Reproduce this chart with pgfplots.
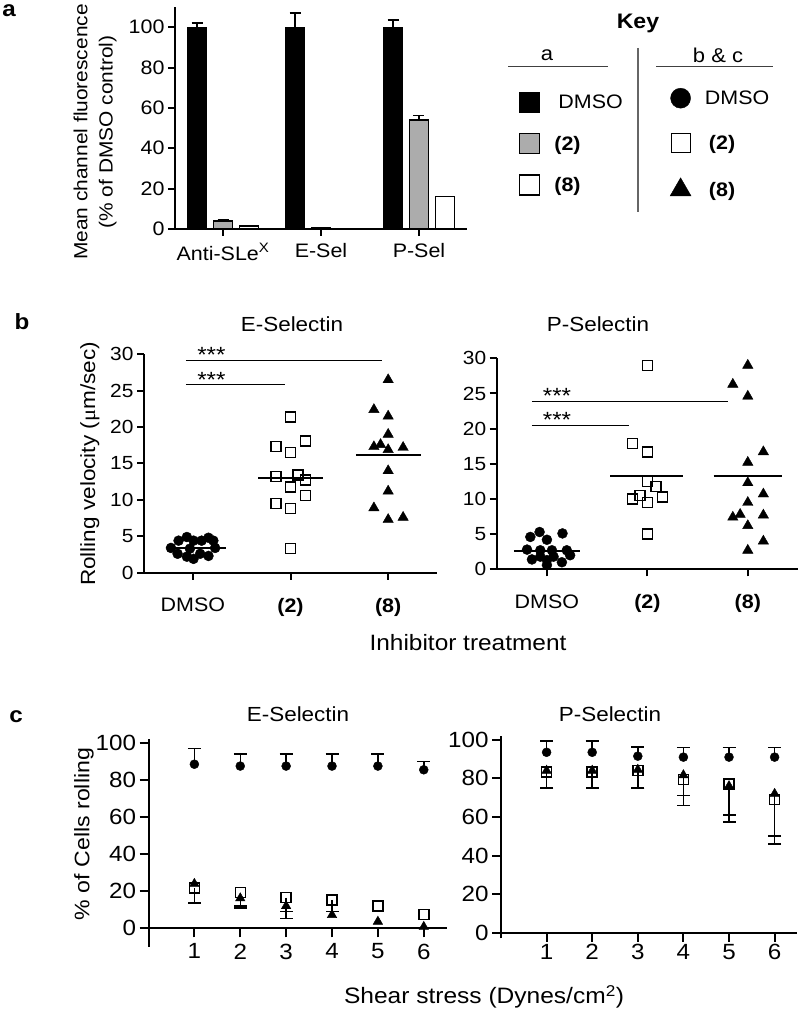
\documentclass[border=0pt]{standalone}
\usepackage{pgfplots}
\pgfplotsset{compat=1.18}
\usepackage{fontspec}
\setmainfont[FakeStretch=1.1]{Liberation Sans}
\newfontfamily\seriffont[FakeStretch=1.1]{Liberation Serif}
\newcommand\fs[1]{\fontsize{#1}{#1}\selectfont}
\pgfplotsset{
  myaxis/.style={
    scale only axis, clip=false, anchor=south west,
    axis lines*=left,
    axis line style={line width=2pt, -},
    tick style={line width=2pt, black},
    major tick length=7pt,
    tick align=outside,
    /pgf/number format/assume math mode=true,
  },
  errup/.style={error bars/.cd, y dir=plus, y explicit, error mark=|,
    error bar style={line width=1.5pt, black},
    error mark options={line width=1.5pt, mark size=#1, black}},
  errdown/.style={error bars/.cd, y dir=minus, y explicit, error mark=|,
    error bar style={line width=1.5pt, black},
    error mark options={line width=1.5pt, mark size=#1, black}},
}
\begin{document}
\begin{tikzpicture}
\useasboundingbox (0pt,0pt) rectangle (800pt,1011pt);

%%%%%%%%%%%%%%%%%% Panel a
\begin{axis}[myaxis, at={(175pt,782pt)}, width=292pt, height=222pt,
  xmin=-0.49, xmax=2.49, ymin=0, ymax=110,
  xtick={0,1,2}, xticklabels={Anti-SLe\textsuperscript{X},E-Sel,P-Sel},
  ytick={0,20,40,60,80,100},
  yticklabel style={font=\fs{19.5}},
  xticklabel style={font=\fs{19.5}, yshift=-4pt},
]
\addplot[ybar, bar width=19pt, bar shift=0pt, fill=black, draw=black, line width=1.2pt, errup=5.5pt]
  coordinates {(-0.265,100) +- (0,2) (0.735,100) +- (0,7) (1.735,100) +- (0,3.5)};
\addplot[ybar, bar width=19pt, bar shift=0pt, fill=gray!65, draw=black, line width=1.2pt, errup=5.5pt]
  coordinates {(0,4) +- (0,0.5) (2,54) +- (0,2.2)};
\addplot[ybar, bar width=19pt, bar shift=0pt, fill=gray!65, draw=black, line width=1.2pt]
  coordinates {(1,0.6)};
\addplot[ybar, bar width=19pt, bar shift=0pt, fill=white, draw=black, line width=1.2pt]
  coordinates {(0.265,1.5) (1.265,0.2) (2.265,16)};
\end{axis}

\node[font=\bfseries\fs{22}] at (9pt,1000pt) {a};
\node[rotate=90, align=center, font=\fontsize{19}{25.3}\selectfont] at (95pt,879pt)
  {Mean channel fluorescence\\(\% of DMSO control)};

%%%%%%%%%%%%%%%%%% Key
\node[font=\bfseries\fs{21}] at (638pt,988pt) {Key};
\node[font=\fs{20}] at (547pt,956pt) {a};
\node[font=\fs{20}] at (718pt,956pt) {b \& c};
\draw[line width=1pt, black!75] (508pt,944pt) -- (608pt,944pt);
\draw[line width=1pt, black!75] (656pt,944pt) -- (773pt,944pt);
\draw[line width=1.5pt, black!60] (638pt,963pt) -- (638pt,799pt);

\begin{axis}[hide axis, scale only axis, width=10pt, height=10pt,
  at={(519pt,919pt)}, anchor=north west,
  xmin=0, xmax=1, ymin=0, ymax=1,
  legend style={at={(0,1)}, anchor=north west, draw=none, fill=none,
    inner sep=0pt, font=\fs{19.5}, row sep=20pt, legend cell align=left},
  legend image code/.code={\draw[#1] (0pt,-10pt) rectangle (20pt,10pt);},
]
\addlegendimage{fill=black, draw=black, line width=1pt}
\addlegendentry{\hspace{16pt}DMSO}
\addlegendimage{fill=gray!65, draw=black, line width=1.2pt}
\addlegendentry{\hspace{12pt}\textbf{(2)}}
\addlegendimage{fill=white, draw=black, line width=1.2pt}
\addlegendentry{\hspace{12pt}\textbf{(8)}}
\end{axis}

\begin{axis}[hide axis, scale only axis, width=10pt, height=10pt,
  at={(670pt,923pt)}, anchor=north west,
  xmin=0, xmax=1, ymin=0, ymax=1,
  legend style={at={(0,1)}, anchor=north west, draw=none, fill=none,
    inner sep=0pt, font=\fs{19.5}, row sep=25pt, legend cell align=left},
  legend image code/.code={\draw[#1] plot coordinates {(10pt,0pt)};},
]
\addlegendimage{only marks, mark=*, mark size=10pt, black}
\addlegendentry{\hspace{12pt}DMSO}
\addlegendimage{only marks, mark=square, mark size=9.5pt, black, mark options={line width=1.2pt}}
\addlegendentry{\hspace{16pt}\textbf{(2)}}
\addlegendimage{only marks, mark=triangle*, mark size=12pt, black}
\addlegendentry{\hspace{16pt}\textbf{(8)}}
\end{axis}

%%%%%%%%%%%%%%%%%% Panel b
\node[font=\bfseries\fs{22}] at (22pt,689pt) {b};
\node[font=\fs{20.4}] at (292pt,687pt) {E-Selectin};
\node[font=\fs{20.4}] at (598pt,687pt) {P-Selectin};
\node[rotate=90, font=\fs{20.5}] at (90pt,547pt) {Rolling velocity ({\seriffont μ}m/sec)};
\node[font=\fs{22.2}] at (468pt,368pt) {Inhibitor treatment};

\begin{axis}[myaxis, at={(144pt,438.3pt)}, width=293pt, height=218.4pt,
  xmin=-0.5, xmax=2.5, ymin=0, ymax=30,
  xtick={0,1,2}, xticklabels={DMSO,\textbf{(2)},\textbf{(8)}},
  ytick={0,5,...,30},
  yticklabel style={font=\fs{19}},
  xticklabel style={font=\fs{19.5}, yshift=-15pt},
]
\addplot[only marks, mark=*, mark size=5pt, black] coordinates {
 (-0.224,3.4) (-0.146,4.4) (-0.061,4.9) (0.007,4.4) (0.09,4.4) (0.16,4.8)
 (-0.156,2.6) (-0.061,2.2) (0.007,1.9) (0.075,2.6) (0.16,2.3) (0.228,3.4)
 (-0.03,3.3) (0.21,4.4)};
\addplot[only marks, mark=square, mark size=5pt, black, mark options={line width=1.5pt, fill=white}] coordinates {
 (1,21.4) (0.85,17.3) (1,16.5) (1.156,18.1) (0.85,13.2) (1.078,13.4)
 (1.156,12.7) (1,11.8) (1.156,10.6) (0.85,9.5) (1,8.8) (1,3.3)};
\addplot[only marks, mark=triangle*, mark size=6pt, black] coordinates {
 (2,26.5) (1.854,22.4) (2,21.5) (2,19.0) (1.854,17.3) (1.922,17.6) (2,16.9)
 (2.153,17.2) (2,14.0) (2,11.2) (1.854,8.9) (2,7.3) (2.153,7.6)};
\addplot[black, line width=2pt] coordinates {(-0.23,3.4) (0.34,3.4)};
\addplot[black, line width=2pt] coordinates {(0.67,13.0) (1.33,13.0)};
\addplot[black, line width=2pt] coordinates {(1.67,16.2) (2.34,16.2)};
\addplot[black, line width=0.8pt] coordinates {(-0.07,29.2) (1.94,29.2)};
\addplot[black, line width=0.8pt] coordinates {(-0.07,25.8) (0.94,25.8)};
\node[font=\fs{22}, anchor=base] at (axis cs:0.19,28.9) {***};
\node[font=\fs{22}, anchor=base] at (axis cs:0.19,25.5) {***};
\end{axis}

\begin{axis}[myaxis, at={(496.7pt,441.7pt)}, width=301.3pt, height=211pt,
  xmin=-0.5, xmax=2.5, ymin=0, ymax=30,
  xtick={0,1,2}, xticklabels={DMSO,\textbf{(2)},\textbf{(8)}},
  ytick={0,5,...,30},
  yticklabel style={font=\fs{19}},
  xticklabel style={font=\fs{19.5}, yshift=-15pt},
]
\addplot[only marks, mark=*, mark size=5pt, black] coordinates {
 (-0.165,4.6) (-0.073,5.3) (0,4.2) (0.155,5.1) (-0.198,2.8) (-0.066,2.7)
 (0.05,2.7) (0.198,2.7) (-0.149,1.4) (0,1.3) (0.149,1.0) (0.231,2.0)
 (0,0.6) (-0.066,1.8) (0.066,1.8)};
\addplot[only marks, mark=square, mark size=5pt, black, mark options={line width=1.5pt, fill=white}] coordinates {
 (1,29.0) (0.851,17.9) (1,16.7) (1,12.5) (1.086,11.8) (0.851,10.0)
 (0.927,10.5) (1,9.5) (1.152,10.3) (1,5.0)};
\addplot[only marks, mark=triangle*, mark size=6pt, black] coordinates {
 (2,29.0) (1.851,26.3) (2,24.6) (2.155,16.7) (2,15.2) (2,12.3) (2.155,10.7)
 (2,9.5) (1.851,7.4) (1.924,7.8) (2.155,7.7) (2,6.2) (2.155,4.0) (2,2.7)};
\addplot[black, line width=2pt] coordinates {(-0.33,2.6) (0.33,2.6)};
\addplot[black, line width=2pt] coordinates {(0.63,13.3) (1.35,13.3)};
\addplot[black, line width=2pt] coordinates {(1.66,13.3) (2.34,13.3)};
\addplot[black, line width=0.8pt] coordinates {(-0.15,23.9) (1.80,23.9)};
\addplot[black, line width=0.8pt] coordinates {(-0.15,20.4) (0.82,20.4)};
\node[font=\fs{22}, anchor=base] at (axis cs:0.10,23.6) {***};
\node[font=\fs{22}, anchor=base] at (axis cs:0.10,20.1) {***};
\end{axis}

%%%%%%%%%%%%%%%%%% Panel c
\node[font=\bfseries\fs{22}] at (16pt,294pt) {c};
\node[font=\fs{20.4}] at (298pt,297pt) {E-Selectin};
\node[font=\fs{20.4}] at (610pt,297pt) {P-Selectin};
\node[rotate=90, font=\fs{21}] at (84pt,177pt) {\% of Cells rolling};
\node[font=\fs{22.3}] at (484pt,14pt) {Shear stress (Dynes/cm\textsuperscript{2})};

\begin{axis}[myaxis, at={(148.5pt,64.2pt)}, width=298.2pt, height=207.6pt,
  xmin=0, xmax=6.5, ymin=-10, ymax=102,
  axis x line*=middle, axis y line*=left,
  hide obscured x ticks=false, hide obscured y ticks=false,
  tick align=outside, major tick length=9pt,
  xtick={1,...,6}, ytick={0,20,...,100},
  tick label style={font=\fs{22}},
  xticklabel style={yshift=-3pt},
]
\addplot[only marks, mark=*, mark size=4.5pt, black, errup=6.5pt] coordinates {
 (1,88.5) +- (0,8.5) (2,87.5) +- (0,6.5) (3,87.5) +- (0,6.5)
 (4,87.5) +- (0,6.5) (5,87.5) +- (0,6.5) (6,85.5) +- (0,4.5)};
\addplot[only marks, mark=square, mark size=5pt, black, mark options={line width=1.5pt, fill=white}, errdown=6.5pt] coordinates {
 (1,21.6) +- (0,8.1) (2,19.2) +- (0,7.2) (3,16.5) +- (0,7.5) (4,15.3) +- (0,6.3)};
\addplot[only marks, mark=square, mark size=5pt, black, mark options={line width=1.5pt, fill=white}] coordinates {
 (5,12.0) (6,7.5)};
\addplot[only marks, mark=triangle*, mark size=5.5pt, black, errdown=6.5pt] coordinates {
 (2,16.2) +- (0,5.2) (3,12.0) +- (0,6.6)};
\addplot[only marks, mark=triangle*, mark size=5.5pt, black] coordinates {
 (1,24.0) (4,7.2) (5,3.6) (6,0.8)};
\end{axis}

\begin{axis}[myaxis, at={(501pt,72.5pt)}, width=296.4pt, height=202.6pt,
  xmin=0, xmax=6.5, ymin=-3, ymax=102,
  axis x line*=middle, axis y line*=left,
  hide obscured x ticks=false, hide obscured y ticks=false,
  tick align=outside, major tick length=9pt,
  xtick={1,...,6}, ytick={0,20,...,100},
  tick label style={font=\fs{22}},
  xticklabel style={yshift=1pt},
]
\addplot[only marks, mark=*, mark size=4.5pt, black, errup=6.5pt] coordinates {
 (1,93.5) +- (0,5.8) (2,93.5) +- (0,5.8) (3,91.5) +- (0,4.7)
 (4,91) +- (0,5) (5,91) +- (0,5) (6,91) +- (0,5)};
\addplot[only marks, mark=triangle*, mark size=5.5pt, black, errdown=6.5pt] coordinates {
 (1,84) +- (0,9) (2,84) +- (0,9)};
\addplot[only marks, mark=square, mark size=5pt, black, mark options={line width=1.5pt, fill=white}, errdown=6.5pt] coordinates {
 (1,83.3) +- (0,8.3) (2,83.3) +- (0,8.3) (3,84) +- (0,9) (4,79.5) +- (0,13.7)
 (5,77) +- (0,19.5) (6,69) +- (0,23)};
\addplot[only marks, mark=triangle*, mark size=5.5pt, black, errdown=6.5pt] coordinates {
 (3,84.5) +- (0,9.5) (4,81.7) +- (0,10.5) (5,76) +- (0,15) (6,72) +- (0,22)};
\end{axis}

\end{tikzpicture}
\end{document}
